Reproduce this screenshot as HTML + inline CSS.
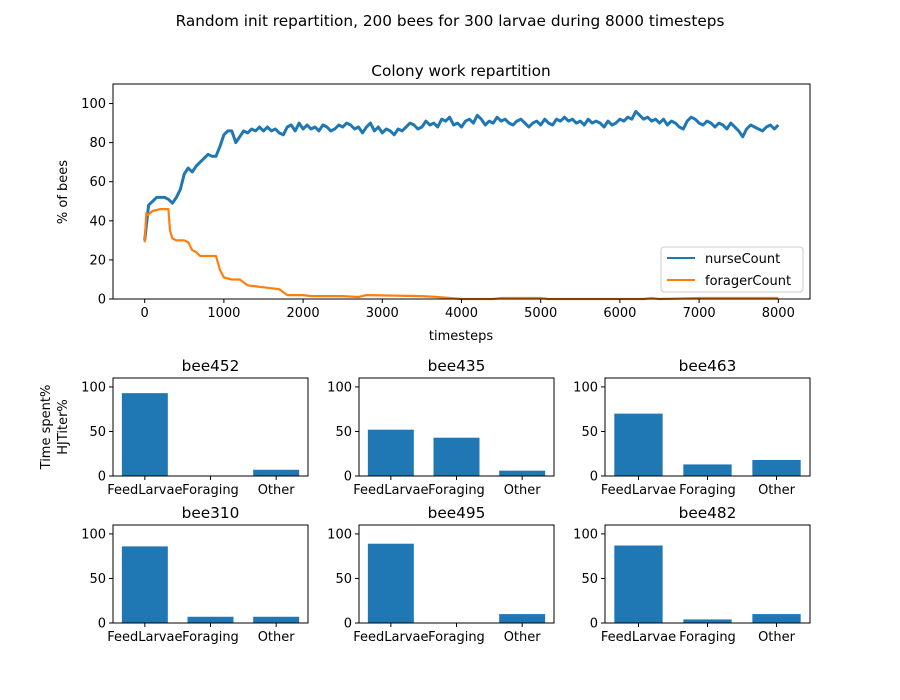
<!DOCTYPE html>
<html><head><meta charset="utf-8">
<style>
body{margin:0;background:#fff}
svg{display:block;font-family:"DejaVu Sans","Liberation Sans",sans-serif}
</style></head>
<body>
<svg id="fig" width="900" height="700" viewBox="0 0 900 700">
<rect width="900" height="700" fill="#fff"/>
<text x="450" y="26" text-anchor="middle" font-size="15.3">Random init repartition, 200 bees for 300 larvae during 8000 timesteps</text>
<g id="main"></g>
<g id="bars"></g>
</svg>
<script>
const nurseTimes = Array.from({length:161},(_, i)=>i*50);
const nurseValues = [30,48,50,52,52,52,51,49,52,56,64,67,65,68,70,72,74,73,73,78,84,86,86,80,83,86,85,87,86,88,86,88,86,87,85,84,88,89,86,90,87,89,87,88,86,89,88,86,87,89,88,90,89,87,88,85,88,90,86,88,85,87,86,84,87,86,88,90,89,87,88,91,89,90,88,92,91,93,89,90,88,91,92,90,94,92,89,91,90,93,91,92,90,89,91,92,90,88,90,91,89,92,90,89,92,91,93,91,92,90,91,89,92,90,91,90,88,91,89,90,92,91,93,92,96,94,92,93,91,92,90,92,89,91,90,88,87,91,93,92,90,89,91,90,88,90,89,87,90,88,86,83,87,89,88,87,86,88,89,87,89];
const foragerTimes = [0,20,40,100,200,300,320,350,400,500,550,600,650,700,900,950,1000,1100,1200,1300,1500,1700,1800,2000,2100,2500,2700,2800,3500,3700,4000,4400,4500,5000,5100,6300,6400,6500,7000,8000];
const foragerValues = [29,44,43,45,46,46,35,31,30,30,29,25,24,22,22,15,11,10,10,7,6,5,2,2,1.5,1.5,1,2,1.5,1,0,0,0.5,0.5,0,0,0.5,0,0.5,0.5];
const xTicks = [0,1000,2000,3000,4000,5000,6000,7000,8000];
const yTicks = [0,20,40,60,80,100];
const beeNames = ["bee452","bee435","bee463","bee310","bee495","bee482"];
const categories = ["FeedLarvae","Foraging","Other"];
const beeValues = [[93,0,7],[52,43,6],[70,13,18],[86,7,7],[89,0,10],[87,4,10]];
const barTicks = [0,50,100];

const NS="http://www.w3.org/2000/svg";
function mk(tag,attrs,parent,text){const e=document.createElementNS(NS,tag);for(const k in attrs)e.setAttribute(k,attrs[k]);if(text!==undefined)e.textContent=text;parent.appendChild(e);return e;}

const M={l:113,r:810,t:84,b:299};
const sx=v=>M.l+(v+400)/8800*(M.r-M.l);
const sy=v=>M.b-v/110*(M.b-M.t);
const g=document.getElementById('main');
mk('text',{x:461,y:76,'text-anchor':'middle','font-size':'15.3'},g,'Colony work repartition');
function line(xs,ys,color,name,w){
  const d=xs.map((x,i)=>(i?'L':'M')+sx(x).toFixed(1)+','+sy(ys[i]).toFixed(1)).join('');
  const p=mk('path',{d:d,fill:'none',stroke:color,'stroke-width':w,'stroke-linejoin':'round'},g);
  
  
}
line(nurseTimes,nurseValues,'#1f77b4','nurse-line',3);
line(foragerTimes,foragerValues,'#ff7f0e','forager-line',2.2);
mk('rect',{x:M.l,y:M.t,width:M.r-M.l,height:M.b-M.t,fill:'none',stroke:'#000','stroke-width':1},g);
xTicks.forEach(t=>{const x=sx(t);mk('line',{x1:x,x2:x,y1:M.b,y2:M.b+4,stroke:'#000'},g);
  const tx=mk('text',{x:x,y:M.b+18,'text-anchor':'middle','font-size':'13'},g,String(t));
  });
yTicks.forEach(t=>{const y=sy(t);mk('line',{x1:M.l-4,x2:M.l,y1:y,y2:y,stroke:'#000'},g);
  const tx=mk('text',{x:M.l-7,y:y+4.5,'text-anchor':'end','font-size':'13'},g,String(t));
  });
mk('text',{x:461,y:340,'text-anchor':'middle','font-size':'13'},g,'timesteps');
mk('text',{x:67,y:192,'text-anchor':'middle','font-size':'13',transform:'rotate(-90 67 192)'},g,'% of bees');
const lg=mk('g',{},g);
mk('rect',{x:661,y:247,width:142,height:45,rx:3,fill:'#fff',stroke:'#ccc'},lg);
mk('line',{x1:667,x2:695,y1:258,y2:258,stroke:'#1f77b4','stroke-width':2},lg);
mk('text',{x:705,y:263,'font-size':'13'},lg,'nurseCount');
mk('line',{x1:667,x2:695,y1:280,y2:280,stroke:'#ff7f0e','stroke-width':2},lg);
mk('text',{x:705,y:285,'font-size':'13'},lg,'foragerCount');

const bg=document.getElementById('bars');
const cols=[[113,308],[359,554],[605,810]];
const rows=[[378,476],[525,623]];
beeNames.forEach((name,i)=>{
  const [l,r]=cols[i%3],[t,b]=rows[Math.floor(i/3)];
  const ax=mk('g',{},bg);
  
  
  const bx=v=>l+(v+0.485)/2.97*(r-l);
  const by=v=>b-v/110*(b-t);
  beeValues[i].forEach((v,j)=>{
    const rc=mk('rect',{x:bx(j-0.35),y:by(v),width:bx(0.35)-bx(-0.35),height:b-by(v),fill:'#1f77b4'},ax);
    
  });
  mk('rect',{x:l,y:t,width:r-l,height:b-t,fill:'none',stroke:'#000'},ax);
  mk('text',{x:(l+r)/2,y:t-7,'text-anchor':'middle','font-size':'15.3'},ax,name);
  categories.forEach((c,j)=>{const x=bx(j);mk('line',{x1:x,x2:x,y1:b,y2:b+4,stroke:'#000'},ax);
    mk('text',{x:x,y:b+18,'text-anchor':'middle','font-size':'13'},ax,c);});
  barTicks.forEach(v=>{const y=by(v);mk('line',{x1:l-4,x2:l,y1:y,y2:y,stroke:'#000'},ax);
    mk('text',{x:l-7,y:y+4.5,'text-anchor':'end','font-size':'13'},ax,String(v));});
});
const yl=mk('text',{x:50,y:427,'text-anchor':'middle','font-size':'13',transform:'rotate(-90 50 427)'},bg,'Time spent%');

const yl2=mk('text',{x:67,y:427,'text-anchor':'middle','font-size':'13',transform:'rotate(-90 67 427)'},bg,'HJTiter%');

</script>
</body></html>
